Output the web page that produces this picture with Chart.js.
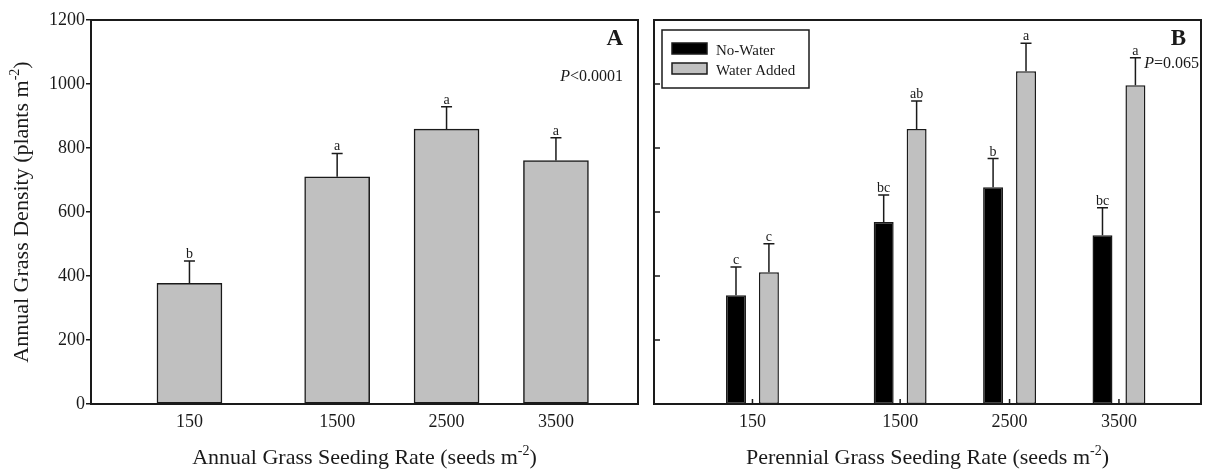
<!DOCTYPE html>
<html>
<head>
<meta charset="utf-8">
<script src="https://cdn.jsdelivr.net/npm/chart.js@4.4.1/dist/chart.umd.min.js"></script>
<style>
html, body { margin: 0; padding: 0; background: #fff; }
#wrapA { position: absolute; left: 0; top: 0; width: 646px; height: 471px; }
#wrapB { position: absolute; left: 645px; top: 0; width: 562px; height: 471px; }
</style>
</head>
<body>
<div id="wrapA"><canvas id="chartA"></canvas></div>
<div id="wrapB"><canvas id="chartB"></canvas></div>
<script>
// seeding rates (x categories), same for both panels
const rates = [150, 1500, 2500, 3500];
const yTicks = [0, 200, 400, 600, 800, 1000, 1200];

// panel A - annual grass
const annualMean = [377, 710, 859, 761];
const annualErr = [70, 73, 70, 71];
const annualLetters = ['b', 'a', 'a', 'a'];

// panel B - perennial grass
const noWaterMean = [340, 569, 677, 527];
const noWaterErr = [88, 84, 90, 86];
const noWaterLetters = ['c', 'bc', 'b', 'bc'];
const waterMean = [412, 859, 1040, 996];
const waterErr = [89, 88, 87, 86];
const waterLetters = ['c', 'ab', 'a', 'a'];

const yTitle = ['Annual Grass Density (plants m', '-2', ')'];
const xTitleA = ['Annual Grass Seeding Rate (seeds m', '-2', ')'];
const xTitleB = ['Perennial Grass Seeding Rate (seeds m', '-2', ')'];

const serif = '"Liberation Serif", "Times New Roman", serif';
const ink = '#1a1a1a';
const gray = '#c0c0c0';

const pts = (vals) => rates.map((r, i) => ({ x: r, y: vals[i] }));

// text with a superscript piece, centred on the origin
function supText(ctx, parts, size) {
    let big = size + 'px ' + serif;
    let small = Math.round(size * 0.62) + 'px ' + serif;
    ctx.font = big;
    let w1 = ctx.measureText(parts[0]).width;
    let w3 = ctx.measureText(parts[2]).width;
    ctx.font = small;
    let w2 = ctx.measureText(parts[1]).width;
    let x = -(w1 + w2 + w3) / 2;
    ctx.textAlign = 'left';
    ctx.textBaseline = 'alphabetic';
    ctx.font = big;
    ctx.fillText(parts[0], x, 0);
    x += w1;
    ctx.font = small;
    ctx.fillText(parts[1], x, -size * 0.42);
    x += w2;
    ctx.font = big;
    ctx.fillText(parts[2], x, 0);
}

const frame = {
    id: 'frame',
    afterDraw(chart) {
        const { ctx, chartArea: a } = chart;
        ctx.save();
        ctx.strokeStyle = ink;
        ctx.lineWidth = 2;
        ctx.strokeRect(a.left, a.top, a.right - a.left, a.bottom - a.top);
        ctx.restore();
    }
};

const errorBars = {
    id: 'errorBars',
    afterDatasetsDraw(chart) {
        const ctx = chart.ctx;
        const y = chart.scales.y;
        ctx.save();
        ctx.strokeStyle = ink;
        ctx.fillStyle = ink;
        ctx.lineWidth = 1.5;
        ctx.font = '14px ' + serif;
        ctx.textAlign = 'center';
        ctx.textBaseline = 'alphabetic';
        chart.data.datasets.forEach((ds, i) => {
            chart.getDatasetMeta(i).data.forEach((bar, j) => {
                let top = y.getPixelForValue(ds.data[j].y + ds.errors[j]);
                ctx.beginPath();
                ctx.moveTo(bar.x, bar.y);
                ctx.lineTo(bar.x, top);
                ctx.moveTo(bar.x - 5.5, top);
                ctx.lineTo(bar.x + 5.5, top);
                ctx.stroke();
                ctx.fillText(ds.letters[j], bar.x, top - 3);
            });
        });
        ctx.restore();
    }
};

const annotate = {
    id: 'annotate',
    afterDraw(chart, args, opts) {
        const { ctx, chartArea: a } = chart;
        ctx.save();
        ctx.fillStyle = ink;
        ctx.textBaseline = 'alphabetic';
        // panel letter
        ctx.font = 'bold 23px ' + serif;
        ctx.textAlign = 'right';
        ctx.fillText(opts.panel, a.right - 15, 45);
        // P value
        ctx.font = '16px ' + serif;
        let rest = opts.pval;
        let wr = ctx.measureText(rest).width;
        ctx.fillText(rest, a.right - opts.pRight, opts.pBase);
        ctx.font = 'italic 16px ' + serif;
        ctx.fillText('P', a.right - opts.pRight - wr, opts.pBase);
        // x title
        ctx.save();
        ctx.translate((a.left + a.right) / 2, 464);
        supText(ctx, opts.xTitle, 22);
        ctx.restore();
        if (opts.yTitle) {
            ctx.save();
            ctx.translate(28, (a.top + a.bottom) / 2);
            ctx.rotate(-Math.PI / 2);
            supText(ctx, opts.yTitle, 22);
            ctx.restore();
        }
        ctx.restore();
    }
};

const innerTicks = {
    id: 'innerTicks',
    afterDraw(chart) {
        const { ctx, chartArea: a, scales } = chart;
        ctx.save();
        ctx.strokeStyle = ink;
        ctx.lineWidth = 1.5;
        ctx.beginPath();
        yTicks.forEach(v => {
            let py = scales.y.getPixelForValue(v);
            ctx.moveTo(a.left, py);
            ctx.lineTo(a.left + 6, py);
        });
        rates.forEach(v => {
            let px = scales.x.getPixelForValue(v);
            ctx.moveTo(px, a.bottom);
            ctx.lineTo(px, a.bottom - 5);
        });
        ctx.stroke();
        ctx.restore();
    }
};

const boxLegend = {
    id: 'boxLegend',
    afterDraw(chart) {
        const ctx = chart.ctx;
        const left = chart.chartArea.left + 8;
        const top = 30;
        ctx.save();
        ctx.fillStyle = '#fff';
        ctx.strokeStyle = ink;
        ctx.lineWidth = 1.5;
        ctx.fillRect(left, top, 147, 58);
        ctx.strokeRect(left, top, 147, 58);
        ctx.font = '15px ' + serif;
        ctx.textAlign = 'left';
        ctx.textBaseline = 'alphabetic';
        chart.data.datasets.forEach((ds, i) => {
            let sy = top + 13 + i * 20;
            ctx.fillStyle = ds.backgroundColor;
            ctx.fillRect(left + 10, sy, 35, 11);
            ctx.strokeRect(left + 10, sy, 35, 11);
            ctx.fillStyle = ink;
            ctx.fillText(ds.label, left + 54, sy + 12);
        });
        ctx.restore();
    }
};

const xScale = (extra) => Object.assign({
    type: 'linear',
    min: -750,
    max: 4250,
    offset: false,
    afterBuildTicks: s => { s.ticks = rates.map(v => ({ value: v })); },
    ticks: { font: { family: serif, size: 18 }, color: ink, padding: 7, callback: v => String(v) },
    grid: { display: false, drawTicks: false },
    border: { display: false },
    afterFit: s => { s.height = 67; }
}, extra);

new Chart(document.getElementById('chartA'), {
    type: 'bar',
    data: {
        datasets: [{
            label: 'Annual grass',
            data: pts(annualMean),
            errors: annualErr,
            letters: annualLetters,
            backgroundColor: gray,
            borderColor: ink,
            borderWidth: 1.5,
            borderSkipped: false,
            barThickness: 65
        }]
    },
    options: {
        responsive: true,
        maintainAspectRatio: false,
        animation: false,
        layout: { padding: { top: 20, right: 8, left: 0, bottom: 0 } },
        plugins: {
            legend: { display: false },
            tooltip: { enabled: false },
            annotate: { panel: 'A', pval: '<0.0001', pRight: 15, pBase: 81, xTitle: xTitleA, yTitle: yTitle }
        },
        scales: {
            x: xScale({}),
            y: {
                min: 0,
                max: 1200,
                afterBuildTicks: s => { s.ticks = yTicks.map(v => ({ value: v })); },
                ticks: { font: { family: serif, size: 18 }, color: ink, padding: 1, callback: v => String(v) },
                grid: { display: true, drawOnChartArea: false, drawTicks: true, tickLength: 5, color: ink, lineWidth: 1.5 },
                border: { display: false },
                afterFit: s => { s.width = 91; }
            }
        }
    },
    plugins: [errorBars, frame, annotate]
});

new Chart(document.getElementById('chartB'), {
    type: 'bar',
    data: {
        datasets: [{
            label: 'No-Water',
            data: pts(noWaterMean),
            errors: noWaterErr,
            letters: noWaterLetters,
            backgroundColor: '#000',
            borderColor: ink,
            borderWidth: 1.5,
            borderSkipped: false,
            categoryPercentage: 0.602,
            barPercentage: 0.606
        }, {
            label: 'Water Added',
            data: pts(waterMean),
            errors: waterErr,
            letters: waterLetters,
            backgroundColor: gray,
            borderColor: ink,
            borderWidth: 1.5,
            borderSkipped: false,
            categoryPercentage: 0.602,
            barPercentage: 0.606
        }]
    },
    options: {
        responsive: true,
        maintainAspectRatio: false,
        animation: false,
        layout: { padding: { top: 20, right: 6, left: 0, bottom: 0 } },
        plugins: {
            legend: { display: false },
            tooltip: { enabled: false },
            annotate: { panel: 'B', pval: '=0.065', pRight: 2, pBase: 68, xTitle: xTitleB }
        },
        scales: {
            x: xScale({}),
            y: {
                min: 0,
                max: 1200,
                afterBuildTicks: s => { s.ticks = yTicks.map(v => ({ value: v })); },
                ticks: { display: false },
                grid: { display: false, drawTicks: false },
                border: { display: false },
                afterFit: s => { s.width = 9; }
            }
        }
    },
    plugins: [errorBars, innerTicks, frame, boxLegend, annotate]
});
</script>
</body>
</html>
